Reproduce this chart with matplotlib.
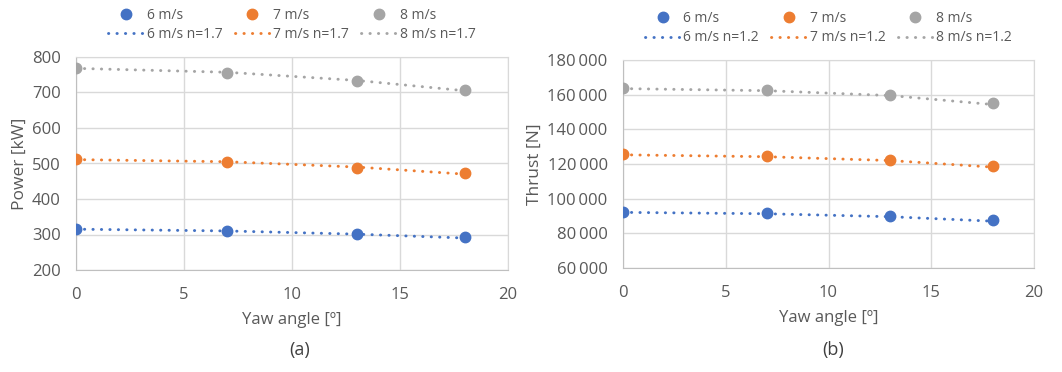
import matplotlib
matplotlib.use("Agg")
import matplotlib.pyplot as plt
from matplotlib.lines import Line2D
from matplotlib.ticker import FuncFormatter

plt.rcParams['font.family'] = ['Open Sans', 'DejaVu Sans']

yaw = [0, 7, 13, 18]
speeds = ["6 m/s", "7 m/s", "8 m/s"]
colors = ["#4472C4", "#ED7D31", "#A5A5A5"]

power_6 = [316, 310, 301, 293]
power_7 = [512, 504, 488, 473]
power_8 = [769, 755, 731, 707]
power_fit_6 = [315, 310, 301, 290]
power_fit_7 = [511, 505, 490, 470]
power_fit_8 = [768, 757, 734, 705]

thrust_6 = [92100, 91600, 89800, 87500]
thrust_7 = [125700, 124500, 122200, 118700]
thrust_8 = [163800, 162700, 159800, 155100]
thrust_fit_6 = [92100, 91300, 89600, 87000]
thrust_fit_7 = [125300, 124200, 122000, 118200]
thrust_fit_8 = [163500, 162300, 159500, 154300]

text_c = "#595959"
grid_c = "#D9D9D9"
dots = (0, (0.1, 2.8))

fig = plt.figure(figsize=(10.62, 3.72), dpi=100)
ax1 = fig.add_axes([76/1062, 1 - 270/372, 432/1062, 213/372])
ax2 = fig.add_axes([623/1062, 1 - 268/372, 411/1062, 208/372])


def draw(ax, data, fits, nlabel, ylim, yticks, ylabel, caption, fmt, cap_x):
    handles = []
    for i in range(3):
        ax.plot(yaw, fits[i], linestyle=dots, dash_capstyle='round',
                lw=2.1, color=colors[i], zorder=2)
        ax.plot(yaw, data[i], 'o', ms=7.5, color=colors[i], zorder=3)
        handles.append(Line2D([], [], marker='o', ms=7.5, ls='none', color=colors[i],
                              label=speeds[i]))
        handles.append(Line2D([], [], linestyle=dots, dash_capstyle='round',
                              lw=2.1, color=colors[i], label=speeds[i] + " " + nlabel))
    ax.set_xlim(0, 20)
    ax.set_xticks([0, 5, 10, 15, 20])
    ax.set_ylim(*ylim)
    ax.set_yticks(yticks)
    ax.yaxis.set_major_formatter(FuncFormatter(fmt))
    ax.grid(True, color=grid_c, lw=1)
    ax.set_axisbelow(True)
    for s in ax.spines.values():
        s.set_color(grid_c)
    ax.spines['left'].set_color("#BFBFBF")
    ax.spines['bottom'].set_color("#BFBFBF")
    ax.tick_params(length=0, labelsize=12, colors=text_c)
    ax.tick_params(axis='y', pad=11)
    ax.tick_params(axis='x', pad=12)
    ax.set_xlabel("Yaw angle [º]", fontsize=12, color=text_c, labelpad=7)
    ax.set_ylabel(ylabel, fontsize=12.5, color=text_c, labelpad=3)
    ax.legend(handles=handles, ncol=3, loc='lower center',
              bbox_to_anchor=(0.5, 1.03), frameon=False, fontsize=10,
              labelcolor=text_c, handlelength=2.5, handletextpad=0.25,
              columnspacing=0.9, labelspacing=0.3, borderaxespad=0.2)
    fig.text(cap_x / 1062, 1 - 350 / 372, caption, ha='center', va='center',
             fontsize=13, color="#404040")


draw(ax1, [power_6, power_7, power_8], [power_fit_6, power_fit_7, power_fit_8],
     "n=1.7", (200, 800), list(range(200, 801, 100)), "Power [kW]", "(a)",
     lambda v, p: f"{int(v)}", 300)
draw(ax2, [thrust_6, thrust_7, thrust_8], [thrust_fit_6, thrust_fit_7, thrust_fit_8],
     "n=1.2", (60000, 180000), list(range(60000, 180001, 20000)), "Thrust [N]", "(b)",
     lambda v, p: f"{int(v):,}".replace(",", "\u2009"), 833)

fig.savefig("out.png", dpi=100, facecolor="white")
